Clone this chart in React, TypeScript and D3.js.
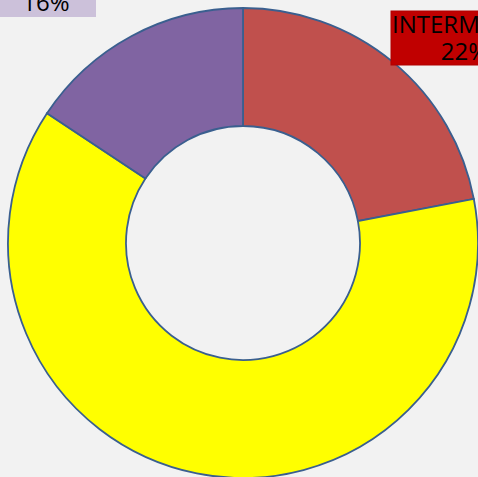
import React from "react";
import * as d3 from "d3";

const categories = ["INTERM", "B", "C"];
const values = [22, 62.3, 15.7];
const colors = ["#c0504d", "#ffff00", "#8064a2"];
const percentLabels = ["22%", "62%", "16%"];

const W = 478;
const H = 477;

export default function App() {
  const cx = 243;
  const cy = 243;
  const outerR = 235;
  const innerR = 117;
  const pie = d3
    .pie<number>()
    .sort(null)
    .value((d) => d)
    .startAngle(0)
    .endAngle(2 * Math.PI);
  const arcs = pie(values);
  const arc = d3.arc<d3.PieArcDatum<number>>().innerRadius(innerR).outerRadius(outerR);
  const font = "'Open Sans', sans-serif";
  return (
    <svg
      width={W}
      height={H}
      style={{ position: "fixed", left: 0, top: 0, background: "#f2f2f2" }}
    >
      <rect x={0} y={0} width={W} height={H} fill="#f2f2f2" />
      <g transform={`translate(${cx},${cy})`}>
        {arcs.map((a, i) => (
          <path key={i} d={arc(a) || ""} fill={colors[i]} stroke="#3a5f8f" strokeWidth={1.8} />
        ))}
      </g>
      {/* purple label, cut at top */}
      <rect x={-2} y={-40} width={98} height={57} fill="#ccc1da" />
      <text x={46} y={11} fontFamily={font} fontSize={24} textAnchor="middle" fill="#000">
        {percentLabels[2]}
      </text>
      {/* red label */}
      <rect x={391} y={11} width={110} height={54} fill="#c00000" stroke="#b00000" />
      <text x={392} y={33} fontFamily={font} fontSize={24} fill="#000">
        {categories[0]}
      </text>
      <text x={488} y={60} fontFamily={font} fontSize={24} textAnchor="end" fill="#000">
        {percentLabels[0]}
      </text>
    </svg>
  );
}
